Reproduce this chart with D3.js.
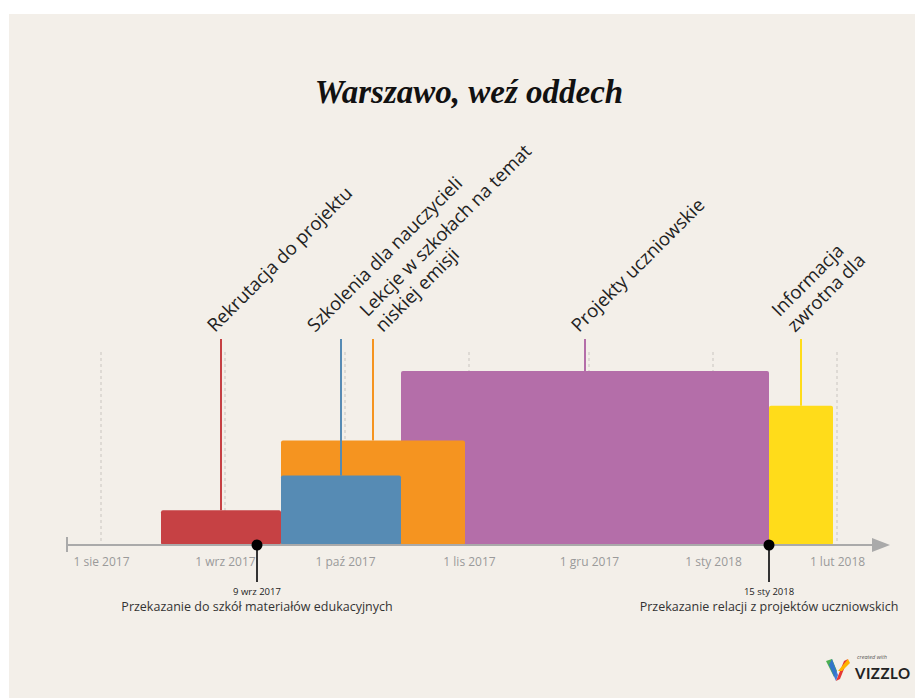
<!DOCTYPE html>
<html>
<head>
<meta charset="utf-8">
<script src="https://cdn.jsdelivr.net/npm/d3@7/dist/d3.min.js"></script>
<style>
  html, body { margin: 0; padding: 0; background: #ffffff; }
  svg { display: block; }
</style>
</head>
<body>
<svg id="chart" width="915" height="698"></svg>
<script>
// ---------- DATA ----------
const phaseNames = [
  ["Projekty uczniowskie"],
  ["Lekcje w szkołach na temat", "niskiej emisji"],
  ["Szkolenia dla nauczycieli"],
  ["Rekrutacja do projektu"],
  ["Informacja", "zwrotna dla"]
];
const phaseStart = ["2017-10-15", "2017-09-15", "2017-09-15", "2017-08-16", "2018-01-15"];
const phaseEnd   = ["2018-01-15", "2017-10-31", "2017-10-15", "2017-09-15", "2018-01-31"];
const phaseLevel = [5, 3, 2, 1, 4];
const phaseColors = ["#b46ea9", "#f59420", "#568bb4", "#c64144", "#ffdc1a"];

const milestoneDates = ["2017-09-09", "2018-01-15"];
const milestoneDateLabels = ["9 wrz 2017", "15 sty 2018"];
const milestoneTexts = ["Przekazanie do szkół materiałów edukacyjnych", "Przekazanie relacji z projektów uczniowskich"];

const tickDates = ["2017-08-01", "2017-09-01", "2017-10-01", "2017-11-01", "2017-12-01", "2018-01-01", "2018-02-01"];
const tickLabels = ["1 sie 2017", "1 wrz 2017", "1 paź 2017", "1 lis 2017", "1 gru 2017", "1 sty 2018", "1 lut 2018"];

const title = "Warszawo, weź oddech";

// layout-only nudges for label collision avoidance (px)
const labelNudge = [0, 16, -20, 0, 0];

// ---------- DRAW ----------
const parse = d3.utcParse("%Y-%m-%d");
const svg = d3.select("#chart");

svg.append("rect").attr("x", 9).attr("y", 14).attr("width", 906).attr("height", 684).attr("fill", "#f3efe9");

const axisY = 545;
const x = d3.scaleUtc()
  .domain([new Date(Date.UTC(2017, 6, 23, 12)), new Date(Date.UTC(2018, 1, 14))])
  .range([67, 889]);
const y = d3.scaleLinear().domain([0, 5]).range([axisY, 371]);

// title
svg.append("text")
  .attr("x", 469).attr("y", 103)
  .attr("text-anchor", "middle")
  .attr("font-family", "'Liberation Serif', 'DejaVu Serif', serif")
  .attr("font-style", "italic").attr("font-weight", "bold")
  .attr("font-size", 33).attr("fill", "#111")
  .text(title);

// gridlines
const ticks = tickDates.map(parse);
svg.append("g").selectAll("line").data(ticks).join("line")
  .attr("x1", d => x(d)).attr("x2", d => x(d))
  .attr("y1", 352).attr("y2", axisY)
  .attr("stroke", "#c9c5c0").attr("stroke-width", 1).attr("stroke-dasharray", "3,3");

// bars
const phases = phaseNames.map((n, i) => ({
  name: n, s: parse(phaseStart[i]), e: parse(phaseEnd[i]), v: phaseLevel[i], c: phaseColors[i], nudge: labelNudge[i]
}));
svg.append("g").selectAll("rect").data(phases).join("rect")
  .attr("x", d => x(d.s)).attr("width", d => x(d.e) - x(d.s))
  .attr("y", d => y(d.v)).attr("height", d => y(0) - y(d.v))
  .attr("rx", 2).attr("fill", d => d.c);

// label lines
const lineTop = 339;
svg.append("g").selectAll("line").data(phases).join("line")
  .attr("x1", d => (x(d.s) + x(d.e)) / 2).attr("x2", d => (x(d.s) + x(d.e)) / 2)
  .attr("y1", lineTop).attr("y2", d => y(d.v))
  .attr("stroke", d => d.c).attr("stroke-width", 2);

// labels
const lh = 22;
const labG = svg.append("g");
phases.forEach(d => {
  const cx = (x(d.s) + x(d.e)) / 2 - 6 + d.nudge;
  const t = labG.append("text")
    .attr("transform", `translate(${cx},333) rotate(-45)`)
    .attr("font-family", "'Open Sans', sans-serif")
    .attr("font-size", 18.5).attr("fill", "#222");
  const n = d.name.length;
  d.name.forEach((line, k) => {
    t.append("tspan").attr("x", 0).attr("y", (k - (n - 1)) * lh).text(line);
  });
});

// axis
svg.append("line").attr("x1", 67).attr("x2", 874).attr("y1", axisY).attr("y2", axisY)
  .attr("stroke", "#aaa").attr("stroke-width", 2);
svg.append("line").attr("x1", 67).attr("x2", 67).attr("y1", 537).attr("y2", 552)
  .attr("stroke", "#aaa").attr("stroke-width", 2);
svg.append("path").attr("d", `M872,${axisY - 7}L890,${axisY}L872,${axisY + 7}Z`).attr("fill", "#aaa");

const axis = d3.axisBottom(x).tickValues(ticks).tickFormat((d, i) => tickLabels[i]).tickSize(0).tickPadding(12);
const axG = svg.append("g").attr("transform", `translate(0,${axisY})`).call(axis);
axG.select(".domain").remove();
axG.selectAll("text").attr("font-family", "'Open Sans', sans-serif").attr("font-size", 12).attr("fill", "#9a9a9a");

// milestones
const ms = milestoneDates.map((d, i) => ({ d: parse(d), lab: milestoneDateLabels[i], txt: milestoneTexts[i] }));
const mg = svg.append("g").selectAll("g").data(ms).join("g").attr("transform", d => `translate(${x(d.d)},0)`);
mg.append("line").attr("y1", axisY).attr("y2", 582).attr("stroke", "#333").attr("stroke-width", 2);
mg.append("circle").attr("cy", axisY).attr("r", 5.5).attr("fill", "#000");
mg.append("text").attr("y", 595).attr("text-anchor", "middle")
  .attr("font-family", "'Open Sans', sans-serif").attr("font-size", 9.5).attr("fill", "#222").text(d => d.lab);
mg.append("text").attr("y", 611).attr("text-anchor", "middle")
  .attr("font-family", "'Open Sans', sans-serif").attr("font-size", 12.5).attr("fill", "#333").text(d => d.txt);

// logo
const lg = svg.append("g").attr("transform", "translate(826,657)");
lg.append("path").attr("d", "M0,4 L6,2 L11,14 L8,20 Z").attr("fill", "#4caf50");
lg.append("path").attr("d", "M6,2 L12,18 L10,24 L3,8 Z").attr("fill", "#2f6fd6").attr("opacity", 0.9);
lg.append("path").attr("d", "M10,24 L18,4 L22,2 L14,22 Z").attr("fill", "#e53935");
lg.append("path").attr("d", "M12,14 L22,2 L24,6 L16,14 Z").attr("fill", "#ffb300");
svg.append("text").attr("x", 857).attr("y", 659)
  .attr("font-family", "'Open Sans', sans-serif").attr("font-style", "italic").attr("font-size", 5.5).attr("fill", "#555").text("created with");
svg.append("text").attr("x", 855).attr("y", 679)
  .attr("font-family", "'Lato', 'Open Sans', sans-serif").attr("font-weight", "bold").attr("font-size", 15).attr("letter-spacing", 0.5).attr("fill", "#222").text("VIZZLO");
</script>
</body>
</html>
